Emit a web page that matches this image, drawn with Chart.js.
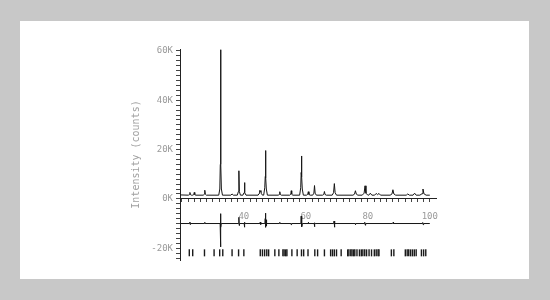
<!DOCTYPE html>
<html>
<head>
<meta charset="utf-8">
<script src="https://cdn.jsdelivr.net/npm/chart.js@4"></script>
<style>
  html, body { margin: 0; padding: 0; background: #c8c8c8; width: 550px; height: 300px; overflow: hidden; }
  #panel { position: absolute; left: 20px; top: 21px; width: 509px; height: 258px; background: #ffffff; }
  #c { position: absolute; left: 0; top: 0; }
</style>
</head>
<body>
<div id="panel"></div>
<canvas id="c" width="550" height="300"></canvas>
<script>
// 2-theta (deg) and profile intensity (counts)
const twoTheta = [19.6, 22.1, 22.43, 22.6, 22.77, 23.1, 23.5, 23.83, 24.0, 24.17, 24.5,
  26.9, 27.23, 27.4, 27.57, 27.9,
  31.9, 32.25, 32.4, 32.5, 32.6, 32.75, 33.1,
  35.8, 36.2, 36.6,
  37.9, 38.25, 38.4, 38.55, 38.9,
  39.7, 40.05, 40.2, 40.35, 40.7,
  44.6, 44.95, 45.1, 45.3, 45.5, 45.65, 46.0,
  46.4, 46.75, 46.9, 47.0, 47.1, 47.25, 47.6,
  51.1, 51.45, 51.6, 51.75, 52.1,
  54.8, 55.15, 55.3, 55.45, 55.8,
  58.0, 58.35, 58.5, 58.6, 58.7, 58.85, 59.2,
  60.2, 60.6, 60.8, 61.0, 61.4,
  62.2, 62.6, 62.8, 63.0, 63.4,
  65.4, 65.8, 66.0, 66.2, 66.6,
  68.5, 68.95, 69.2, 69.45, 69.9,
  75.2, 75.7, 76.0, 76.3, 76.8,
  78.2, 78.8, 79.1, 79.4, 80.0,
  80.3, 80.8, 81.3,
  82.2, 82.7, 83.15, 83.6, 84.1,
  87.2, 87.8, 88.1, 88.4, 89.0,
  92.4, 92.9, 93.4,
  94.6, 95.1, 95.6,
  96.8, 97.5, 97.8, 98.1, 98.8,
  100.0];
const intensity = [1600, 1500, 1720, 2600, 1720, 1500, 1500, 1720, 2600, 1720, 1500,
  1500, 1900, 3500, 1900, 1500,
  1500, 4000, 14000, 60500, 14000, 4000, 1500,
  1500, 2000, 1500,
  1500, 3000, 11400, 3000, 1500,
  1500, 2500, 6600, 2500, 1500,
  1500, 2200, 3400, 2900, 3400, 2200, 1500,
  1500, 4500, 9000, 19600, 8500, 4000, 1500,
  1500, 1800, 2900, 1800, 1500,
  1500, 1900, 3300, 1900, 1500,
  1500, 4500, 10700, 17400, 9000, 4000, 1500,
  1500, 1800, 2900, 1800, 1500,
  1500, 2300, 5400, 2300, 1500,
  1500, 1800, 3000, 1800, 1500,
  1500, 2500, 6200, 2500, 1500,
  1500, 1900, 3300, 1900, 1500,
  1500, 2300, 5300, 2300, 1500,
  1500, 2300, 1500,
  1500, 2200, 1700, 2200, 1500,
  1500, 2000, 3700, 2000, 1500,
  1500, 2000, 1500,
  1500, 2300, 1500,
  1500, 2100, 4000, 2100, 1500,
  1500];

// difference curve (plotted offset at -10K)
const diffTheta = [19.6, 22.5, 22.6, 22.7, 22.8, 27.3, 27.4, 27.5,
  32.35, 32.42, 32.5, 32.56, 32.62, 32.7,
  38.3, 38.4, 38.5, 38.6, 40.1, 40.2, 40.3, 40.4,
  45.2, 45.3, 45.4, 45.5,
  46.8, 46.9, 47.0, 47.05, 47.15, 47.25, 47.4,
  51.5, 51.6, 51.7, 55.2, 55.3, 55.4,
  58.4, 58.5, 58.6, 58.65, 58.75, 58.9,
  60.7, 60.8, 60.9, 62.7, 62.8, 62.9, 63.0,
  69.0, 69.1, 69.2, 69.3, 69.4, 75.9, 76.0, 76.1,
  78.9, 79.0, 79.2, 79.3, 88.0, 88.2, 88.3,
  97.6, 97.7, 97.9, 98.0, 100.0];
const diffValue = [-10000, -10000, -9400, -10400, -10000, -10000, -9500, -10000,
  -10000, -6000, -19500, -7500, -11500, -10000,
  -10000, -7500, -10800, -10000, -10000, -11500, -9500, -10000,
  -10000, -9400, -10500, -10000,
  -10000, -8000, -5800, -11500, -8500, -11000, -10000,
  -10000, -9500, -10000, -10000, -10500, -10000,
  -10000, -7000, -11000, -7800, -11300, -10000,
  -10000, -9500, -10000, -10000, -11300, -9700, -10000,
  -10000, -9000, -11500, -9600, -10000, -10000, -10500, -10000,
  -10000, -9500, -10700, -10000, -10000, -9500, -10000,
  -10000, -9600, -10500, -10000, -10000];

// reflection positions (tick marks)
const reflections = [22.4, 23.5, 27.3, 30.4, 32.2, 33.2, 36.2, 38.3, 40.0,
  45.3, 46.0, 46.7, 47.4, 48.0, 50.0, 51.3, 52.6, 53.0, 53.5, 53.9, 55.5, 57.2,
  58.6, 59.3, 60.7, 62.9, 63.8, 66.0, 68.0, 68.6, 69.2, 69.9, 71.4,
  73.5, 73.9, 74.5, 74.9, 75.4, 75.8, 76.5, 77.3, 77.9, 78.4, 79.0, 79.6,
  80.4, 81.2, 82.1, 82.7, 83.3, 83.6, 87.6, 88.4,
  92.1, 92.7, 93.2, 93.8, 94.4, 95.0, 95.6, 97.3, 98.0, 98.7];
const reflectionLevel = -21900;

// axis ticks and labels
const xTickStep = 2;
const xTickFirst = 20, xTickLast = 100;
const xLabelValues = [40, 60, 80, 100];
const yTickStep = 2000;
const yTickFirst = -24000, yTickLast = 60000;
const yLabelValues = [-20000, 0, 20000, 40000, 60000];
const yLabelTexts = ['-20K', '0K', '20K', '40K', '60K'];

const monoFont = { family: "'DejaVu Sans Mono', 'Liberation Mono', monospace", size: 9 };

function stepTicks(first, last, step) {
  const out = [];
  for (let v = first; v <= last + 1e-9; v += step) out.push({ value: Math.round(v * 1000) / 1000 });
  return out;
}

new Chart(document.getElementById('c'), {
  type: 'line',
  data: {
    datasets: [
      { label: 'Profile', data: twoTheta.map((t, i) => ({ x: t, y: intensity[i] })),
        borderColor: '#151515', borderWidth: 1, pointRadius: 0, tension: 0, fill: false },
      { label: 'Difference', data: diffTheta.map((t, i) => ({ x: t, y: diffValue[i] })),
        borderColor: '#151515', borderWidth: 1, pointRadius: 0, tension: 0, fill: false },
      { type: 'scatter', label: 'Reflections', data: reflections.map(t => ({ x: t, y: reflectionLevel })),
        showLine: false, pointStyle: 'line', rotation: 90, pointRadius: 3.5,
        borderColor: '#1a1a1a', borderWidth: 1.4 }
    ]
  },
  options: {
    responsive: false,
    animation: false,
    devicePixelRatio: 1,
    layout: { padding: { left: 120, right: 114, top: 49, bottom: 40 } },
    plugins: { legend: { display: false }, tooltip: { enabled: false } },
    scales: {
      x: {
        type: 'linear', min: 19.4, max: 102,
        position: { y: 0 },
        border: { color: '#222', width: 1 },
        grid: { drawOnChartArea: false, tickLength: 3, color: '#444' },
        afterBuildTicks: s => { s.ticks = stepTicks(xTickFirst, xTickLast, xTickStep); },
        ticks: {
          autoSkip: false, maxRotation: 0,
          padding: 9, color: '#9a9a9a', font: monoFont,
          callback: v => xLabelValues.includes(Math.round(v)) ? String(Math.round(v)) : ''
        }
      },
      y: {
        type: 'linear', min: -24800, max: 60800,
        position: 'left',
        afterFit: s => { s.width = 60; },
        afterBuildTicks: s => { s.ticks = stepTicks(yTickFirst, yTickLast, yTickStep); },
        border: { color: '#222', width: 1 },
        grid: { drawOnChartArea: false, tickLength: 4, color: '#444' },
        ticks: {
          autoSkip: false,
          padding: 3, color: '#9a9a9a', font: monoFont,
          callback: v => { const k = yLabelValues.indexOf(Math.round(v)); return k >= 0 ? yLabelTexts[k] : ''; }
        },
        title: {
          display: true, text: 'Intensity (counts)', color: '#a0a0a0',
          font: { family: "'DejaVu Sans Mono', 'Liberation Mono', monospace", size: 10 },
          padding: { top: 10, bottom: 0 }
        }
      }
    }
  }
});
</script>
</body>
</html>
